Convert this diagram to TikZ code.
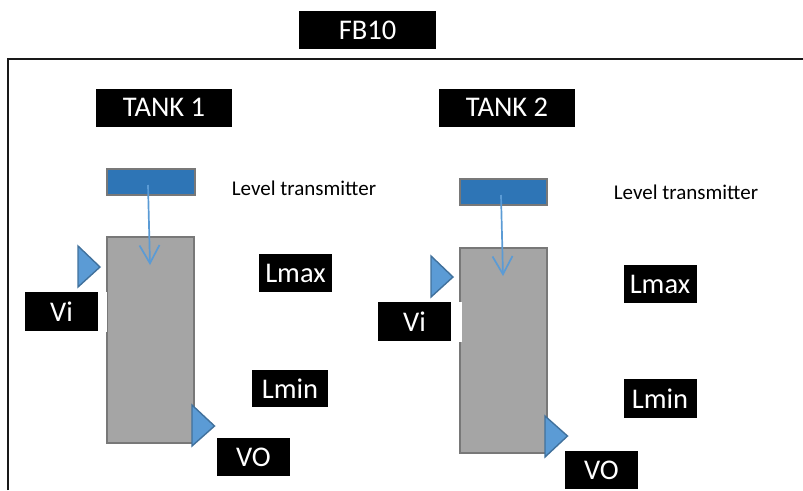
\documentclass[tikz,border=0pt]{standalone}
\usepackage{fontspec}
\setmainfont{Carlito}
\usetikzlibrary{arrows.meta}
\definecolor{tankgray}{HTML}{A5A5A5}
\definecolor{edgegray}{HTML}{787878}
\definecolor{sensorblue}{HTML}{2E75B6}
\definecolor{valveblue}{HTML}{5B9BD5}
\definecolor{valveedge}{HTML}{41719C}
\tikzset{
  lab/.style={fill=black,text=white,inner sep=0pt,font=\fontsize{28.5}{29}\selectfont,anchor=center},
  tankbox/.style={fill=tankgray,draw=edgegray,line width=2pt,inner sep=0pt,anchor=north west},
  sensorbox/.style={fill=sensorblue,draw=edgegray,line width=2.2pt,inner sep=0pt,anchor=north west},
  valve/.style={fill=valveblue,draw=valveedge,line width=1.4pt,line join=miter},
  sig/.style={draw=valveblue,line width=1.7pt,-{Straight Barb[length=18pt,width=20pt,line width=1.7pt]}},
  caption/.style={font=\fontsize{21}{22}\selectfont,text=black,inner sep=0pt,anchor=center}
}
\newcommand{\blk}[6]{\node[lab,minimum width=#3pt,minimum height=#4pt] (#6) at (#1pt,-#2pt) {#5};}
\begin{document}
\begin{tikzpicture}[x=1pt,y=-1pt]
\useasboundingbox (0,0) rectangle (803,490);
% frame
\draw[line width=2pt,draw=black!90] (8,490) -- (8,59) -- (803,59);
% titles
\blk{367.5}{30}{137}{38}{FB10}{fb}
\blk{164}{107.5}{136}{38}{TANK 1}{tone}
\blk{507}{107.5}{136}{38}{TANK 2}{ttwo}
% tank 1
\node[tankbox,minimum width=87pt,minimum height=206pt] (t1) at (106,236) {};
\fill[white] (98,292) rectangle (107,332);
\draw[edgegray,line width=1.4pt] (107.7,292) -- (107.7,332);
\node[sensorbox,minimum width=88pt,minimum height=26pt] (s1) at (106,168) {};
\coordinate (a1s) at (148,185);
\coordinate (a1e) at (150,265);
\draw[sig] (a1s) -- (a1e);
\draw[valve] (78,246) -- (100,267) -- (78,287) -- cycle;
\draw[valve] (192,405) -- (214.5,426) -- (192,446) -- cycle;
\blk{61.5}{311.5}{73}{39}{Vi}{vi1}
\blk{253.5}{457}{73}{38}{VO}{vo1}
\blk{295.5}{273}{73}{38}{Lmax}{lx1}
\blk{290}{388.5}{76}{37}{Lmin}{ln1}
\node[caption] (c1) at (304,188) {Level transmitter};
% tank 2
\node[tankbox,minimum width=87pt,minimum height=205pt] (t2) at (459,247) {};
\fill[white] (451,302) rectangle (462,342);
\node[sensorbox,minimum width=87pt,minimum height=26pt] (s2) at (459,178) {};
\coordinate (a2s) at (501,195);
\coordinate (a2e) at (503,276);
\draw[sig] (a2s) -- (a2e);
\draw[valve] (431,256) -- (453,277) -- (431,297) -- cycle;
\draw[valve] (545,416) -- (567.5,436) -- (545,457) -- cycle;
\blk{414.5}{321.5}{73}{39}{Vi}{vi2}
\blk{601.5}{470}{73}{38}{VO}{vo2}
\blk{660}{284}{73}{38}{Lmax}{lx2}
\blk{660}{398.5}{73}{39}{Lmin}{ln2}
\node[caption] (c2) at (686,192) {Level transmitter};
\end{tikzpicture}
\end{document}
